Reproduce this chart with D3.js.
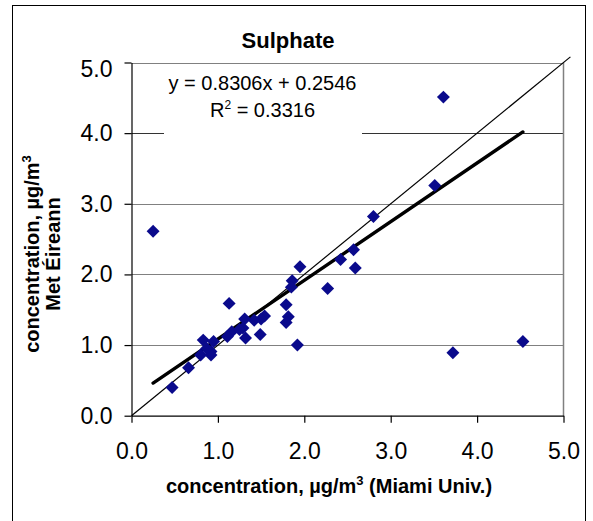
<!DOCTYPE html>
<html>
<head>
<meta charset="utf-8">
<script src="https://cdn.jsdelivr.net/npm/d3@7"></script>
<style>
  html, body { margin: 0; padding: 0; background: #fff; }
  svg { display: block; font-family: "Liberation Sans", Arial, sans-serif; }
</style>
</head>
<body>
<svg id="chart" width="593" height="521"></svg>
<script>
// Sulphate concentrations: Miami Univ. (x) vs Met Éireann (y), µg/m³
const miami = [
  0.25, 3.61, 3.51, 2.80, 2.57, 2.42, 2.59, 1.95, 1.86, 1.85,
  2.27, 1.79, 1.815, 1.79, 1.92, 1.13, 1.54, 1.50, 1.42, 1.49,
  1.31, 1.29, 1.32, 1.16, 1.11, 1.25, 0.83, 0.95, 0.92, 0.92,
  0.80, 0.87, 0.66, 0.47, 3.72, 4.53
];
const metEireann = [
  2.61, 4.51, 3.26, 2.82, 2.35, 2.21, 2.09, 2.11, 1.91, 1.82,
  1.80, 1.57, 1.40, 1.32, 1.00, 1.59, 1.41, 1.37, 1.35, 1.15,
  1.37, 1.24, 1.10, 1.19, 1.12, 1.22, 1.07, 1.05, 0.91, 0.86,
  0.86, 0.95, 0.68, 0.40, 0.89, 1.05
];
const slope = 0.8306;
const intercept = 0.2546;
const rSquared = 0.3316;
const oneToOne = [0, 5.08];
const tickValues = [0, 1, 2, 3, 4, 5];

const svg = d3.select("#chart");

// outer chart frame
svg.append("rect")
  .attr("x", 12.5).attr("y", 5.5).attr("width", 573).attr("height", 540)
  .attr("fill", "#fff").attr("stroke", "#000").attr("stroke-width", 1);

const x = d3.scaleLinear().domain([0, 5]).range([131.5, 563.5]);
const y = d3.scaleLinear().domain([0, 5]).range([415.7, 62.5]);

// horizontal gridlines
svg.append("g").selectAll("line")
  .data(tickValues.filter(v => v > 0))
  .join("line")
  .attr("x1", x(0)).attr("x2", x(5))
  .attr("y1", d => Math.round(y(d)) + 0.5).attr("y2", d => Math.round(y(d)) + 0.5)
  .attr("stroke", d => d === 4 ? "#333" : "#808080")
  .attr("stroke-width", 1.2);

// right plot border
svg.append("line")
  .attr("x1", x(5)).attr("x2", x(5))
  .attr("y1", y(5)).attr("y2", y(0))
  .attr("stroke", "#808080").attr("stroke-width", 1.5);

// axes
const fmt = d3.format(".1f");
const yAxis = svg.append("g")
  .attr("transform", `translate(${x(0)},0)`)
  .call(d3.axisLeft(y).tickValues(tickValues).tickFormat(fmt).tickSize(7).tickSizeOuter(0).tickPadding(12));
const xAxis = svg.append("g")
  .attr("transform", `translate(0,${y(0)})`)
  .call(d3.axisBottom(x).tickValues(tickValues).tickFormat(fmt).tickSize(7).tickSizeOuter(0).tickPadding(20));

[yAxis, xAxis].forEach(g => {
  g.selectAll("path.domain").attr("stroke", "#000").attr("stroke-width", 1.2);
  g.selectAll(".tick line").attr("stroke", "#000").attr("stroke-width", 1.2);
  g.selectAll(".tick text")
    .attr("fill", "#000")
    .style("font-family", '"Liberation Sans", Arial, sans-serif')
    .style("font-size", "23px");
});
// top value label sits just below the top edge
yAxis.selectAll(".tick text").filter(d => d === 5).attr("dy", "0.6em");

// 1:1 reference line
svg.append("line")
  .attr("x1", x(oneToOne[0])).attr("y1", y(oneToOne[0]))
  .attr("x2", x(oneToOne[1])).attr("y2", y(oneToOne[1]))
  .attr("stroke", "#000").attr("stroke-width", 1.2);

// linear regression line over the observed range
const xr = d3.extent(miami);
svg.append("line")
  .attr("x1", x(xr[0])).attr("y1", y(slope * xr[0] + intercept))
  .attr("x2", x(xr[1])).attr("y2", y(slope * xr[1] + intercept))
  .attr("stroke", "#000").attr("stroke-width", 3.4)
  .attr("stroke-linecap", "round");

// data points (diamonds)
const diamond = d3.symbol().type(d3.symbolSquare).size(84);
svg.append("g").selectAll("path")
  .data(miami.map((v, i) => [v, metEireann[i]]))
  .join("path")
  .attr("d", diamond)
  .attr("transform", d => `translate(${x(d[0])},${y(d[1])}) rotate(45)`)
  .attr("fill", "#0a0a8c");

// regression label with white background
svg.append("rect")
  .attr("x", 164).attr("y", 68).attr("width", 198).attr("height", 67)
  .attr("fill", "#fff");
const eq = svg.append("g").attr("font-size", 20).attr("text-anchor", "middle").attr("fill", "#000");
eq.append("text").attr("x", 262.5).attr("y", 90)
  .text(`y = ${slope}x + ${intercept}`);
const r2 = eq.append("text").attr("x", 262.5).attr("y", 116.5);
r2.append("tspan").text("R");
r2.append("tspan").attr("font-size", 12).attr("dy", -8).text("2");
r2.append("tspan").attr("dy", 8).text(` = ${rSquared}`);

// title
svg.append("text")
  .attr("x", 288).attr("y", 48.3)
  .attr("text-anchor", "middle")
  .attr("font-size", 22).attr("font-weight", "bold")
  .text("Sulphate");

// x axis title
const xt = svg.append("text")
  .attr("x", 329).attr("y", 492.5)
  .attr("text-anchor", "middle")
  .attr("font-size", 20).attr("font-weight", "bold");
xt.append("tspan").text("concentration, µg/m");
xt.append("tspan").attr("font-size", 13).attr("dy", -8).text("3");
xt.append("tspan").attr("dy", 8).text(" (Miami Univ.)");

// y axis title (two lines)
const yt = svg.append("text")
  .attr("transform", "translate(38.5,254) rotate(-90)")
  .attr("text-anchor", "middle")
  .attr("font-size", 20).attr("font-weight", "bold");
yt.append("tspan").text("concentration, µg/m");
yt.append("tspan").attr("font-size", 13).attr("dy", -8).text("3");
svg.append("text")
  .attr("transform", "translate(60,254) rotate(-90)")
  .attr("text-anchor", "middle")
  .attr("font-size", 20).attr("font-weight", "bold")
  .text("Met Éireann");
</script>
</body>
</html>
